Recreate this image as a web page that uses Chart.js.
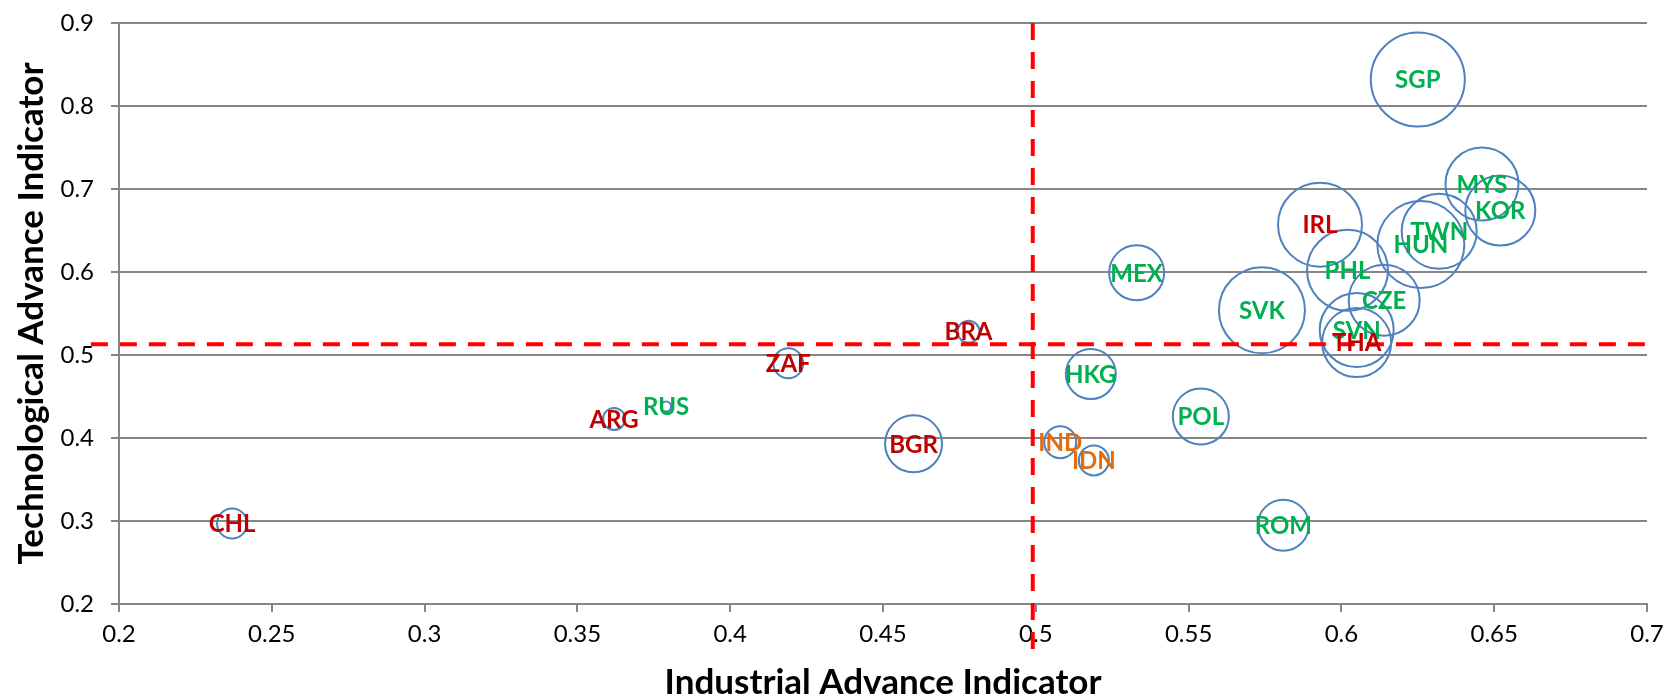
<!DOCTYPE html>
<html>
<head>
<meta charset="utf-8">
<script src="https://cdn.jsdelivr.net/npm/chart.js@4.4.1/dist/chart.umd.min.js"></script>
<style>
  html, body { margin: 0; padding: 0; background: #fff; }
  #wrap { width: 1667px; height: 698px; }
</style>
</head>
<body>
<div id="wrap"><canvas id="c" width="1667" height="698"></canvas></div>
<script>
// ---- data ----
const countries = ['SGP','MYS','KOR','TWN','HUN','IRL','PHL','CZE','SVN','THA','SVK','MEX','HKG','POL','IND','IDN','ROM','BRA','ZAF','RUS','ARG','BGR','CHL'];
const industrialAdvance = [0.625,0.646,0.652,0.632,0.626,0.593,0.602,0.614,0.605,0.605,0.574,0.533,0.518,0.554,0.508,0.519,0.581,0.478,0.419,0.379,0.362,0.460,0.237];
const technologicalAdvance = [0.832,0.706,0.674,0.649,0.633,0.657,0.602,0.566,0.530,0.515,0.554,0.599,0.477,0.426,0.395,0.373,0.295,0.528,0.490,0.438,0.423,0.393,0.297];
const bubbleSize = [47,36.5,35,37.5,43.5,42,40.5,35.5,37,34.5,43,27.5,25,28,16,15,25.5,11,15,5,11,28.5,15];
const group = ['G','G','G','G','G','R','G','G','G','R','G','G','G','G','O','O','G','R','R','G','R','R','R'];
const groupColors = { G: '#00B050', R: '#C00000', O: '#E46C0A' };
const thresholdIndustrial = 0.499;
const thresholdTechnological = 0.513;
const xTickLabels = ['0.2','0.25','0.3','0.35','0.4','0.45','0.5','0.55','0.6','0.65','0.7'];
const yTickLabels = ['0.2','0.3','0.4','0.5','0.6','0.7','0.8','0.9'];
const xTitle = 'Industrial Advance Indicator';
const yTitle = 'Technological Advance Indicator';

// ---- build chart ----
const bubbles = countries.map((c, i) => ({ x: industrialAdvance[i], y: technologicalAdvance[i], r: bubbleSize[i], label: c }));
const vLine = [{ x: thresholdIndustrial, y: 0.9 }, { x: thresholdIndustrial, y: 0.142 }];
const hLine = [{ x: 0.1908, y: thresholdTechnological }, { x: 0.7, y: thresholdTechnological }];

const FONT = 'Lato, "Open Sans", sans-serif';
const GRID = '#868686';

const labelPlugin = {
  id: 'bubbleLabels',
  afterDatasetsDraw(chart) {
    const meta = chart.getDatasetMeta(2);
    const ctx = chart.ctx;
    ctx.save();
    ctx.font = 'bold 24px ' + FONT;
    ctx.textAlign = 'center';
    ctx.textBaseline = 'middle';
    meta.data.forEach((el, i) => {
      ctx.fillStyle = groupColors[group[i]];
      ctx.fillText(countries[i], el.x, el.y + 1);
    });
    ctx.restore();
  }
};
const bgPlugin = {
  id: 'bg',
  beforeDraw(chart) {
    const ctx = chart.ctx;
    ctx.save();
    ctx.fillStyle = '#fff';
    ctx.fillRect(0, 0, chart.width, chart.height);
    ctx.restore();
  }
};

new Chart(document.getElementById('c'), {
  type: 'bubble',
  data: {
    datasets: [
      { type: 'scatter', data: vLine, showLine: true, pointRadius: 0, borderColor: '#FF0000', borderWidth: 4, borderDash: [17, 12], clip: false },
      { type: 'scatter', data: hLine, showLine: true, pointRadius: 0, borderColor: '#FF0000', borderWidth: 4, borderDash: [17, 12], clip: false },
      { data: bubbles, backgroundColor: 'rgba(0,0,0,0)', borderColor: '#4F81BD', borderWidth: 2, hoverBorderWidth: 2, clip: false }
    ]
  },
  options: {
    responsive: false,
    animation: false,
    events: [],
    layout: { autoPadding: false, padding: { left: 0, right: 20, top: 23, bottom: 0 } },
    plugins: { legend: { display: false }, tooltip: { enabled: false } },
    scales: {
      x: {
        type: 'linear', min: 0.2, max: 0.7,
        ticks: { stepSize: 0.05, color: '#000', font: { family: FONT, size: 24 }, padding: 8,
                 callback: (v, i) => xTickLabels[i], maxRotation: 0 },
        grid: { drawOnChartArea: false, drawTicks: true, tickLength: 8, color: GRID, lineWidth: 2 },
        border: { display: true, color: GRID, width: 2 },
        title: { display: true, text: xTitle, color: '#000', font: { family: FONT, size: 35, weight: 'bold', lineHeight: '30px' }, padding: 0 },
        afterFit: (s) => { s.height = 94; s.paddingLeft = 0; s.paddingRight = 0; }
      },
      y: {
        type: 'linear', min: 0.2, max: 0.9,
        ticks: { stepSize: 0.1, color: '#000', font: { family: FONT, size: 24 }, padding: 17,
                 callback: (v, i) => yTickLabels[i] },
        grid: { color: GRID, lineWidth: 2, tickLength: 8 },
        border: { display: true, color: GRID, width: 2 },
        title: { display: true, text: yTitle, color: '#000', font: { family: FONT, size: 35, weight: 'bold', lineHeight: '64px' }, padding: 0 },
        afterFit: (s) => { s.width = 119; s.paddingTop = 0; s.paddingBottom = 0; }
      }
    }
  },
  plugins: [bgPlugin, labelPlugin]
});
</script>
</body>
</html>
